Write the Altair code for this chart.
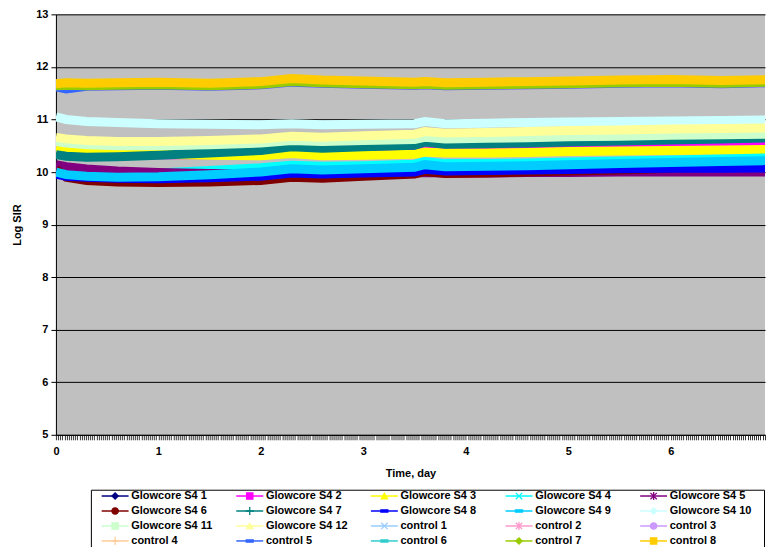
import altair as alt
import pandas as pd

# ---------------- data ----------------
T = [0, 0.1, 0.3, 0.6, 1, 1.5, 2, 2.3, 2.6, 3, 3.5, 3.6, 3.8, 4.2, 4.6, 5, 5.5, 6, 6.5, 7]

SERIES = [
    "Glowcore S4 1", "Glowcore S4 2", "Glowcore S4 3", "Glowcore S4 4", "Glowcore S4 5",
    "Glowcore S4 6", "Glowcore S4 7", "Glowcore S4 8", "Glowcore S4 9", "Glowcore S4 10",
    "Glowcore S4 11", "Glowcore S4 12", "control 1", "control 2", "control 3",
    "control 4", "control 5", "control 6", "control 7", "control 8",
]

s4_1 = [10.02, 9.97, 9.93, 9.90, 9.90, 9.91, 9.93, 9.97, 9.95, 9.97, 9.99, 10.03, 10.00, 10.01, 10.02, 10.03, 10.04, 10.05, 10.05, 10.06]
s4_2 = [10.48, 10.43, 10.38, 10.35, 10.33, 10.33, 10.35, 10.40, 10.38, 10.41, 10.43, 10.47, 10.45, 10.46, 10.48, 10.50, 10.51, 10.53, 10.55, 10.56]
s4_3 = [10.46, 10.42, 10.38, 10.36, 10.34, 10.32, 10.31, 10.35, 10.31, 10.32, 10.34, 10.38, 10.36, 10.36, 10.37, 10.39, 10.40, 10.41, 10.42, 10.43]
s4_4 = [10.05, 10.00, 9.97, 9.96, 9.98, 10.03, 10.08, 10.13, 10.11, 10.12, 10.15, 10.20, 10.16, 10.16, 10.17, 10.19, 10.21, 10.23, 10.25, 10.27]
s4_5 = [10.14, 10.10, 10.06, 10.02, 9.99, 9.97, 9.96, 9.97, 9.97, 9.97, 9.98, 9.99, 9.98, 9.98, 9.99, 9.99, 10.00, 10.00, 10.00, 10.00]
s4_6 = [10.05, 9.90, 9.84, 9.81, 9.80, 9.81, 9.84, 9.90, 9.88, 9.92, 9.96, 10.01, 9.97, 9.98, 10.00, 10.02, 10.04, 10.07, 10.09, 10.11]
s4_7 = [10.33, 10.30, 10.28, 10.29, 10.32, 10.36, 10.41, 10.48, 10.45, 10.48, 10.51, 10.57, 10.53, 10.54, 10.55, 10.57, 10.59, 10.61, 10.63, 10.65]
s4_8 = [9.96, 9.92, 9.90, 9.88, 9.87, 9.89, 9.92, 9.98, 9.96, 9.98, 10.00, 10.05, 10.02, 10.03, 10.04, 10.05, 10.06, 10.07, 10.07, 10.08]
s4_9 = [10.00, 9.95, 9.92, 9.90, 9.91, 9.95, 10.00, 10.06, 10.04, 10.06, 10.09, 10.14, 10.10, 10.11, 10.12, 10.14, 10.16, 10.18, 10.20, 10.22]
s4_10 = [11.05, 11.00, 10.96, 10.94, 10.92, 10.91, 10.90, 10.92, 10.90, 10.91, 10.92, 10.96, 10.92, 10.93, 10.94, 10.95, 10.96, 10.97, 10.98, 10.99]
s4_11 = [10.58, 10.55, 10.52, 10.50, 10.50, 10.52, 10.55, 10.60, 10.58, 10.60, 10.62, 10.66, 10.63, 10.64, 10.65, 10.67, 10.68, 10.70, 10.71, 10.72]
s4_12 = [10.66, 10.63, 10.60, 10.58, 10.58, 10.60, 10.63, 10.68, 10.66, 10.69, 10.72, 10.77, 10.74, 10.75, 10.77, 10.79, 10.80, 10.82, 10.83, 10.84]
control_1 = [11.66, 11.67, 11.66, 11.67, 11.68, 11.66, 11.69, 11.74, 11.72, 11.70, 11.68, 11.69, 11.67, 11.68, 11.69, 11.70, 11.72, 11.73, 11.71, 11.73]
control_2 = [11.63, 11.64, 11.63, 11.64, 11.65, 11.63, 11.66, 11.71, 11.69, 11.67, 11.65, 11.66, 11.64, 11.65, 11.66, 11.67, 11.69, 11.70, 11.68, 11.70]
control_3 = [11.64, 11.65, 11.64, 11.65, 11.66, 11.64, 11.67, 11.72, 11.70, 11.68, 11.66, 11.67, 11.65, 11.66, 11.67, 11.68, 11.70, 11.71, 11.69, 11.71]
control_4 = [11.67, 11.68, 11.67, 11.68, 11.69, 11.67, 11.70, 11.75, 11.73, 11.71, 11.69, 11.70, 11.68, 11.69, 11.70, 11.71, 11.73, 11.74, 11.72, 11.74]
control_5 = [11.62, 11.58, 11.63, 11.64, 11.65, 11.63, 11.66, 11.71, 11.69, 11.67, 11.65, 11.66, 11.64, 11.65, 11.66, 11.67, 11.69, 11.70, 11.68, 11.70]
control_6 = [11.66, 11.67, 11.66, 11.67, 11.68, 11.66, 11.69, 11.74, 11.72, 11.70, 11.68, 11.69, 11.67, 11.68, 11.69, 11.70, 11.72, 11.73, 11.71, 11.73]
control_7 = [11.64, 11.65, 11.64, 11.65, 11.66, 11.64, 11.67, 11.72, 11.70, 11.68, 11.66, 11.67, 11.65, 11.66, 11.67, 11.68, 11.70, 11.71, 11.69, 11.71]
control_8 = [11.68, 11.70, 11.69, 11.70, 11.71, 11.69, 11.72, 11.78, 11.75, 11.73, 11.71, 11.72, 11.70, 11.71, 11.72, 11.73, 11.75, 11.76, 11.74, 11.76]

VALUES = [s4_1, s4_2, s4_3, s4_4, s4_5, s4_6, s4_7, s4_8, s4_9, s4_10, s4_11, s4_12,
          control_1, control_2, control_3, control_4, control_5, control_6, control_7, control_8]

COLORS = ["#000080", "#FF00FF", "#FFFF00", "#00FFFF", "#800080",
          "#800000", "#008080", "#0000FF", "#00CCFF", "#CCFFFF",
          "#CCFFCC", "#FFFF99", "#99CCFF", "#FF99CC", "#CC99FF",
          "#FFCC99", "#3366FF", "#33CCCC", "#99CC00", "#FFCC00"]

X_SHAPE = "M-1,-1L1,1M-1,1L1,-1"
STAR_SHAPE = "M-1,-1L1,1M-1,1L1,-1M0,-1.3L0,1.3"
PLUS_SHAPE = "M-1.3,0H1.3M0,-1.3V1.3"
DASH_SHAPE = "M-1.1,-0.35H1.1V0.35H-1.1Z"
SHAPES = ["diamond", "square", "triangle-up", X_SHAPE, STAR_SHAPE,
          "circle", PLUS_SHAPE, DASH_SHAPE, DASH_SHAPE, "diamond",
          "square", "triangle-up", X_SHAPE, STAR_SHAPE, "circle",
          PLUS_SHAPE, DASH_SHAPE, DASH_SHAPE, "diamond", "square"]

FONT = "Liberation Sans"
X_MAX = 6.92

rows = []
for name, vals in zip(SERIES, VALUES):
    for t, v in zip(T, vals):
        rows.append({"series": name, "day": t, "sir": v})
df = pd.DataFrame(rows)

color_scale = alt.Scale(domain=SERIES, range=COLORS)

x_ticks = [i / 48 for i in range(7 * 48 + 1) if i / 48 <= X_MAX]

main = alt.Chart(df).mark_line(strokeWidth=9, clip=True).encode(
    x=alt.X("day:Q", scale=alt.Scale(domain=[0, X_MAX], nice=False, zero=False),
            axis=alt.Axis(values=x_ticks,
                          labelExpr="datum.value % 1 == 0 ? format(datum.value, 'd') : ''",
                          labelOverlap=False, labelFlush=False, tickSize=5, tickColor="black",
                          tickWidth=0.8, domainColor="black", labelColor="black",
                          labelFontSize=11, labelFontWeight="bold", labelFont=FONT,
                          labelPadding=6, title="Time, day", titleFont=FONT,
                          titleFontSize=11, titleFontWeight="bold", titleColor="black",
                          titlePadding=11, grid=False)),
    y=alt.Y("sir:Q", scale=alt.Scale(domain=[5, 13], nice=False, zero=False),
            axis=alt.Axis(values=list(range(5, 14)), tickSize=5, tickColor="black",
                          domainColor="black", gridColor="black", gridOpacity=1, grid=True,
                          labelColor="black", labelFontSize=11, labelFontWeight="bold",
                          labelFont=FONT, labelPadding=3, title="Log SIR", titleFont=FONT,
                          titleFontSize=11, titleFontWeight="bold", titleColor="black",
                          titlePadding=13)),
    color=alt.Color("series:N", scale=color_scale, legend=None),
).properties(width=710, height=421,
             view=alt.ViewBackground(fill="#C0C0C0", stroke=None))

# ---------------- legend ----------------
leg_df = pd.DataFrame({"series": SERIES, "idx": list(range(len(SERIES)))})

yscale = alt.Scale(domain=[0, 4], reverse=True, nice=False, zero=False)
xscale = alt.Scale(domain=[0, 5], nice=False, zero=False)

base = alt.Chart(leg_df).transform_calculate(
    col="datum.idx % 5",
    row="floor(datum.idx / 5)",
).transform_calculate(
    x0="datum.col + 0.08",
    x1="datum.col + 0.28",
    xm="datum.col + 0.18",
    xt="datum.col + 0.30",
    yr="datum.row + 0.42",
)

leg_rule = base.mark_rule(strokeWidth=1.5).encode(
    x=alt.X("x0:Q", scale=xscale, axis=None), x2="x1:Q",
    y=alt.Y("yr:Q", scale=yscale, axis=None),
    color=alt.Color("series:N", scale=color_scale, legend=None),
)
leg_pt = base.mark_point(filled=True, size=40, strokeWidth=1.3, opacity=1).encode(
    x=alt.X("xm:Q", scale=xscale, axis=None),
    y=alt.Y("yr:Q", scale=yscale, axis=None),
    fill=alt.Fill("series:N", scale=color_scale, legend=None),
    stroke=alt.Stroke("series:N", scale=color_scale, legend=None),
    shape=alt.Shape("series:N", scale=alt.Scale(domain=SERIES, range=SHAPES), legend=None),
)
leg_txt = base.mark_text(align="left", baseline="middle", fontSize=11, fontWeight="bold",
                         font=FONT, color="black").encode(
    x=alt.X("xt:Q", scale=xscale, axis=None),
    y=alt.Y("yr:Q", scale=yscale, axis=None),
    text="series:N",
)

legend = alt.layer(leg_rule, leg_pt, leg_txt).properties(
    width=674, height=60,
    view=alt.ViewBackground(fill="white", stroke="black", strokeWidth=1),
)

spacer = alt.Chart(leg_df).mark_point(opacity=0).encode(
    x=alt.value(0), y=alt.value(0)
).properties(width=24, height=60, view=alt.ViewBackground(stroke=None, fill=None))

legend_row = alt.hconcat(spacer, legend, spacing=10)

chart = alt.vconcat(main, legend_row, spacing=8).properties(
    padding={"left": 3, "top": 0, "right": 0, "bottom": 0},
    background="white",
).configure(font=FONT)

chart.save("out.html", embed_options={"renderer": "svg", "actions": False})
